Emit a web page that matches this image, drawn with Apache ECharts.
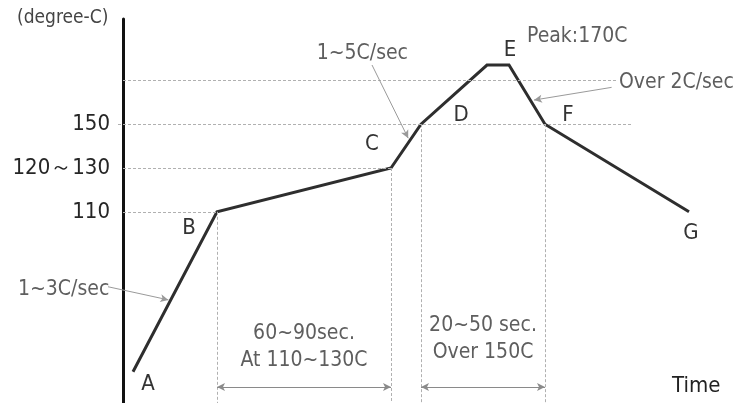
<!DOCTYPE html>
<html>
<head>
<meta charset="utf-8">
<script src="https://cdn.jsdelivr.net/npm/echarts@6/dist/echarts.min.js"></script>
<style>
html,body{margin:0;padding:0;background:#fff;}
#chart{width:740px;height:403px;}
</style>
</head>
<body>
<div id="chart"></div>
<script>
// ---- data ----
const pointNames   = ['A', 'B', 'C', 'D', '', 'E', 'F', 'G'];
const profileTime  = [5, 47, 134, 149, 182, 193, 211, 283];
const profileTemp  = [37, 110, 130, 150, 177, 177, 150, 110];
const yTickValues  = [110, 130, 150];
const yTickLabels  = ['110', '120～130', '150'];
const guideLevels  = [110, 130, 150, 170];
const guideFrom    = [0, 0, -2.5, 0];
const guideTo      = [47, 134, 254.5, 247.5];
const dropPoints   = [1, 2, 3, 6];          // B, C, D, F
const spanPairs    = [[1, 2], [3, 6]];      // B-C, D-F
const spanLevel    = 30;
const spanTexts    = [['60~90sec.', 'At 110~130C'], ['20~50 sec.', 'Over 150C']];
const noteTexts    = ['1~3C/sec', '1~5C/sec', 'Over 2C/sec', 'Peak:170C'];
const noteArrows   = [[[-7.5, 75.8], [22.7, 69.8]], [[124.5, 177], [142.6, 143.6]], [[244.3, 166.8], [205.5, 161]]];

// ---- styles ----
const FONT = '"DejaVu Sans Condensed", "DejaVu Sans"';
const font = (s) => s + 'px ' + FONT;
const letterOffsets = [[15, 13], [-28, 16], [-19, -24], [40, -9], [0, 0], [1, -15], [23, -9], [2, 21]];

const chart = echarts.init(document.getElementById('chart'), null, {renderer: 'canvas'});

const profileData = profileTime.map((t, i) => ({
  value: [t, profileTemp[i]],
  label: {
    show: pointNames[i] !== '',
    formatter: pointNames[i],
    position: 'inside',
    offset: letterOffsets[i],
    fontFamily: FONT, fontSize: 22, color: '#333',
    align: 'center', verticalAlign: 'middle'
  }
}));

const guideLines = guideLevels.map((lv, i) => [{coord: [guideFrom[i], lv]}, {coord: [guideTo[i], lv]}]);
dropPoints.forEach(idx => {
  guideLines.push([{coord: [profileTime[idx], profileTemp[idx]]}, {coord: [profileTime[idx], 20]}]);
});

const spanLines = spanPairs.map(p => [
  {coord: [profileTime[p[0]], spanLevel]},
  {coord: [profileTime[p[1]], spanLevel]}
]);

const noteLines = noteArrows.map(a => [{coord: a[0]}, {coord: a[1]}]);

const option = {
  animation: false,
  backgroundColor: '#fff',
  grid: {left: 103, right: 17, top: 19, height: 390, containLabel: false, outerBoundsMode: 'none'},
  xAxis: {type: 'value', min: -10, max: 300, show: false},
  yAxis: {
    type: 'value', min: 20, max: 198,
    axisLine: {show: true, onZero: true, lineStyle: {color: '#111', width: 3}},
    axisTick: {show: false},
    splitLine: {show: false},
    axisLabel: {
      customValues: yTickValues,
      formatter: v => yTickLabels[yTickValues.indexOf(v)] || '',
      fontFamily: FONT, fontSize: 22, color: '#262626', margin: -7
    }
  },
  series: [
    {
      type: 'line', z: 1, data: [], clip: false, silent: true,
      markLine: {
        silent: true, symbol: ['none', 'none'], label: {show: false},
        lineStyle: {color: '#b0b0b0', width: 1, type: [3, 2]},
        data: guideLines
      }
    },
    {
      type: 'line', z: 2, data: [], clip: false, silent: true,
      markLine: {
        silent: true, symbol: ['arrow', 'arrow'], symbolSize: [6, 8], label: {show: false},
        lineStyle: {color: '#8a8a8a', width: 1, type: 'solid'},
        data: spanLines
      }
    },
    {
      type: 'line', z: 2, data: [], clip: false, silent: true,
      markLine: {
        silent: true, symbol: ['none', 'arrow'], symbolSize: [6, 8], label: {show: false},
        lineStyle: {color: '#9a9a9a', width: 1, type: 'solid'},
        data: noteLines
      }
    },
    {
      type: 'line', z: 3, clip: false, silent: true,
      data: profileData,
      symbol: 'circle', symbolSize: 1,
      itemStyle: {color: 'rgba(0,0,0,0)'},
      lineStyle: {color: '#2e2e2e', width: 3, join: 'miter'}
    }
  ]
};
chart.setOption(option);

// annotation texts
const gray = '#5e5e5e';
const px = (x, y) => chart.convertToPixel({gridIndex: 0}, [x, y]);
const graphics = [
  {type: 'text', x: 17, y: 18, style: {text: '(degree-C)', font: font(19), fill: '#444', verticalAlign: 'middle'}},
  {type: 'text', x: 672, y: 386, style: {text: 'Time', font: font(22), fill: '#222', verticalAlign: 'middle'}},
  {type: 'text', x: 18, y: 290, style: {text: noteTexts[0], font: font(21), fill: gray, verticalAlign: 'middle'}},
  {type: 'text', x: 408, y: 54, style: {text: noteTexts[1], font: font(21), fill: gray, align: 'right', verticalAlign: 'middle'}},
  {type: 'text', x: 619, y: 83, style: {text: noteTexts[2], font: font(21), fill: gray, verticalAlign: 'middle'}},
  {type: 'text', x: 527, y: 37, style: {text: noteTexts[3], font: font(21), fill: gray, verticalAlign: 'middle'}}
];
const spanOffsets = [[-54, -27], [-62, -35]];
spanPairs.forEach((p, i) => {
  const a = px(profileTime[p[0]], spanLevel);
  const b = px(profileTime[p[1]], spanLevel);
  const cx = (a[0] + b[0]) / 2;
  spanTexts[i].forEach((t, j) => {
    graphics.push({type: 'text', x: cx, y: a[1] + spanOffsets[i][j],
      style: {text: t, font: font(21), fill: gray, align: 'center', verticalAlign: 'middle'}});
  });
});
chart.setOption({graphic: graphics});
</script>
</body>
</html>
